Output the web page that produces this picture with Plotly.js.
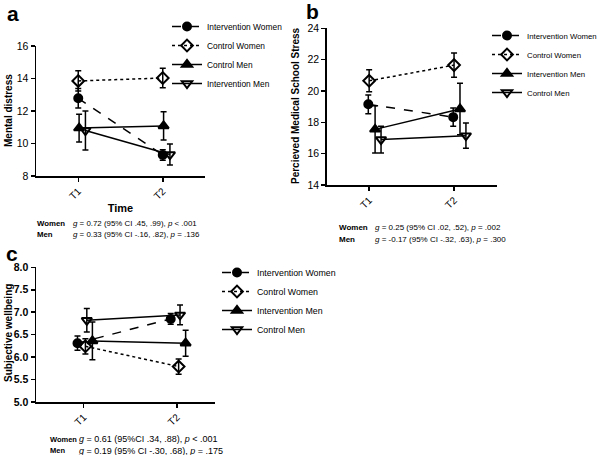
<!DOCTYPE html>
<html><head><meta charset="utf-8">
<script src="https://cdn.plot.ly/plotly-3.0.1.min.js"></script>
<style>html,body{margin:0;padding:0;background:#fff}#chart{width:600px;height:455px}</style>
</head><body><div id="chart"></div>
<script>
// ---------- data ----------
const timeLabels = ['T1', 'T2'];
const timeIndex = [1, 2];

// Panel a: Mental distress
const aIntWomen = [12.78, 9.29];   const aIntWomenErr = [0.6, 0.32];
const aConWomen = [13.85, 14.03];  const aConWomenErr = [0.62, 0.6];
const aConMen   = [10.95, 11.08];  const aConMenErr   = [0.85, 0.87];
const aIntMen   = [10.8, 9.32];    const aIntMenErr   = [1.2, 0.65];

// Panel b: Percieved Medical School Stress
const bIntWomen = [19.15, 18.33];  const bIntWomenErr = [0.6, 0.58];
const bConWomen = [20.65, 21.65];  const bConWomenErr = [0.7, 0.78];
const bIntMen   = [17.55, 18.85];  const bIntMenErr   = [1.5, 1.65];
const bConMen   = [16.9, 17.15];   const bConMenErr   = [0.85, 0.8];

// Panel c: Subjective wellbeing
const cIntWomen = [6.31, 6.85];    const cIntWomenErr = [0.16, 0.12];
const cConWomen = [6.24, 5.79];    const cConWomenErr = [0.17, 0.17];
const cIntMen   = [6.36, 6.31];    const cIntMenErr   = [0.42, 0.29];
const cConMen   = [6.82, 6.94];    const cConMenErr   = [0.26, 0.22];

const yTitles = ['Mental distress', 'Percieved Medical School Stress', 'Subjective wellbeing'];
const statsA = [['Women', '<i>g</i> = 0.72 (95% CI .45, .99), <i>p</i> &lt; .001'],
                ['Men',   '<i>g</i> = 0.33 (95% CI -.16, .82), <i>p</i> = .136']];
const statsB = [['Women', '<i>g</i> = 0.25 (95% CI .02, .52), <i>p</i> = .002'],
                ['Men',   '<i>g</i> = -0.17 (95% CI -.32, .63), <i>p</i> = .300']];
const statsC = [['Women', '<i>g</i> = 0.61 (95%CI .34, .88), <i>p</i> &lt; .001'],
                ['Men',   '<i>g</i> = 0.19 (95% CI -.30, .68), <i>p</i> = .175']];

// ---------- styles ----------
const FONT = 'Liberation Sans, Arial, sans-serif';
const sty = {
  intWomen: {symbol: 'circle', size: 8, dash: 'dash'},
  conWomen: {symbol: 'diamond-open', size: 9, dash: 'dot'},
  triUp:    {symbol: 'triangle-up', size: 9, dash: 'solid'},
  triDown:  {symbol: 'triangle-down-open', size: 9, dash: 'solid'}
};

function mk(name, y, err, st, dodge, ax, leg) {
  return {
    type: 'scatter', mode: 'lines+markers', name: name,
    x: timeIndex.map(v => v + dodge), y: y,
    xaxis: 'x' + ax, yaxis: 'y' + ax, legend: leg,
    line: {color: '#000', width: 1.5, dash: st.dash},
    marker: {symbol: st.symbol, size: st.size, color: '#000', line: {color: '#000', width: 2}},
    error_y: {type: 'data', array: err, visible: true, color: '#000', thickness: 1.5, width: 3},
    cliponaxis: false
  };
}

const traces = [
  mk('Intervention Women', aIntWomen, aIntWomenErr, sty.intWomen, 0, '', 'legend'),
  mk('Control Women', aConWomen, aConWomenErr, sty.conWomen, 0, '', 'legend'),
  mk('Control Men', aConMen, aConMenErr, sty.triUp, 0.01, '', 'legend'),
  mk('Intervention Men', aIntMen, aIntMenErr, sty.triDown, 0.085, '', 'legend'),

  mk('Intervention Women', bIntWomen, bIntWomenErr, sty.intWomen, -0.01, '2', 'legend2'),
  mk('Control Women', bConWomen, bConWomenErr, sty.conWomen, 0, '2', 'legend2'),
  mk('Intervention Men', bIntMen, bIntMenErr, sty.triUp, 0.07, '2', 'legend2'),
  mk('Control Men', bConMen, bConMenErr, sty.triDown, 0.14, '2', 'legend2'),

  mk('Intervention Women', cIntWomen, cIntWomenErr, sty.intWomen, -0.065, '3', 'legend3'),
  mk('Control Women', cConWomen, cConWomenErr, sty.conWomen, 0.02, '3', 'legend3'),
  mk('Intervention Men', cIntMen, cIntMenErr, sty.triUp, 0.095, '3', 'legend3'),
  mk('Control Men', cConMen, cConMenErr, sty.triDown, 0.035, '3', 'legend3')
];

const W = 600, H = 455;
const px = v => v / W, py = v => 1 - v / H;

function xax(d0, d1, range, anchor) {
  return {
    domain: [px(d0), px(d1)], range: range, anchor: anchor,
    tickmode: 'array', tickvals: timeIndex, ticktext: timeLabels, tickangle: -45,
    showline: true, linecolor: '#000', linewidth: 1.5, ticks: 'outside', ticklen: 4,
    tickwidth: 1.5, tickcolor: '#000', showgrid: false, zeroline: false,
    tickfont: {family: FONT, size: 10, color: '#000'}
  };
}
function yax(top, bottom, range, dtick, anchor, bold, fmt) {
  return {
    domain: [py(bottom), py(top)], range: range, anchor: anchor, dtick: dtick, tick0: range[0],
    tickformat: fmt,
    showline: true, linecolor: '#000', linewidth: 1.5, ticks: 'outside', ticklen: 4,
    tickwidth: 1.5, tickcolor: '#000', showgrid: false, zeroline: false,
    tickfont: {family: FONT, size: 10.5, color: '#000', weight: bold ? 'bold' : 'normal'}
  };
}
function leg(x, y, fs) {
  return {x: px(x), y: py(y), xanchor: 'left', yanchor: 'top', itemwidth: 30,
          font: {family: FONT, size: fs, color: '#000'}, bgcolor: 'rgba(0,0,0,0)', tracegroupgap: 0};
}

const layout = {
  width: W, height: H, margin: {l: 0, r: 0, t: 0, b: 0, autoexpand: false},
  paper_bgcolor: '#fff', plot_bgcolor: '#fff', showlegend: true,
  xaxis: Object.assign(xax(36, 205, [0.5, 2.5], 'y'),
    {title: {text: '<b>Time</b>', font: {family: FONT, size: 11, color: '#000'}, standoff: 3}}),
  yaxis: yax(46, 176, [8, 16], 2, 'x', false, ''),
  xaxis2: xax(326.7, 496.5, [0.5, 2.5], 'y2'),
  yaxis2: yax(28.3, 185, [14, 24], 2, 'x2', false, ''),
  xaxis3: xax(36, 215, [0.49, 2.41], 'y3'),
  yaxis3: yax(267.3, 402, [5, 8], 0.5, 'x3', true, '.1f'),
  legend:  leg(167, 12, 8.4),
  legend2: leg(487, 21, 7.8),
  legend3: leg(217, 258, 8.8),
  annotations: []
};

function label(t, x, y) {
  layout.annotations.push({text: '<b>' + t + '</b>', x: px(x), y: py(y), xref: 'paper', yref: 'paper',
    showarrow: false, xanchor: 'center', yanchor: 'middle', font: {family: FONT, size: 21, color: '#000'}});
}
label('a', 12.5, 13); label('b', 313, 11); label('c', 12, 253);

function ytitle(t, x, y) {
  layout.annotations.push({text: '<b>' + t + '</b>', x: px(x), y: py(y), xref: 'paper', yref: 'paper',
    showarrow: false, textangle: -90, xanchor: 'center', yanchor: 'middle',
    font: {family: FONT, size: 10, color: '#000'}});
}
ytitle(yTitles[0], 8, 111); ytitle(yTitles[1], 295, 106); ytitle(yTitles[2], 8, 333);

function stats(rows, xLab, xStat, y0, dy, fsLab, fs) {
  rows.forEach((r, i) => {
    layout.annotations.push({text: '<b>' + r[0] + '</b>', x: px(xLab), y: py(y0 + i * dy), xref: 'paper', yref: 'paper',
      showarrow: false, xanchor: 'left', yanchor: 'middle', font: {family: FONT, size: fsLab, color: '#000'}});
    layout.annotations.push({text: r[1], x: px(xStat), y: py(y0 + i * dy), xref: 'paper', yref: 'paper',
      showarrow: false, xanchor: 'left', yanchor: 'middle', font: {family: FONT, size: fs, color: '#000'}});
  });
}
stats(statsA, 35, 71, 223, 11.2, 7.8, 7.9);
stats(statsB, 337, 373, 227.5, 11.5, 8, 8);
stats(statsC, 48, 77, 439, 11.5, 7.5, 9);

Plotly.newPlot('chart', traces, layout, {displayModeBar: false, staticPlot: true});
</script></body></html>
